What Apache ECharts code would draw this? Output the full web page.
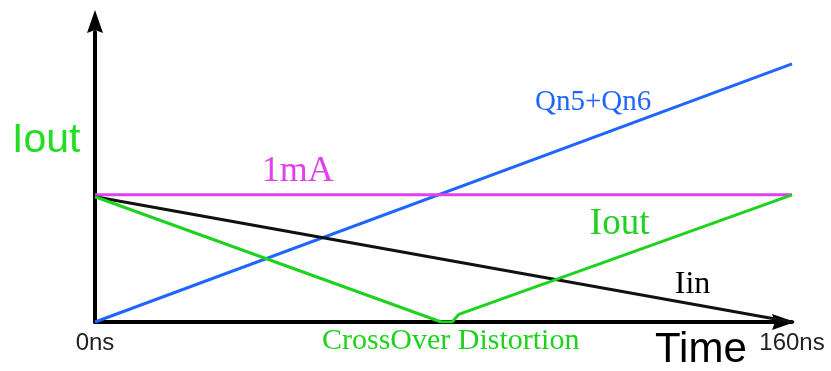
<!DOCTYPE html>
<html>
<head>
<meta charset="utf-8">
<style>
  html, body { margin: 0; padding: 0; background: #fff; }
  #chart { width: 831px; height: 371px; }
</style>
<script src="https://cdn.jsdelivr.net/npm/echarts@6/dist/echarts.min.js"></script>
</head>
<body>
<div id="chart"></div>
<script>
// time in ns, current in mA (sketch units)
const timeTicks = [0, 160];
const qn56Time = [0, 160];
const qn56Current = [0, 2.03];
const refTime = [0, 160];
const refCurrent = [1.0, 1.0];
const iinTime = [0, 160];
const iinCurrent = [0.985, 0];
const ioutTime = [0, 79.5, 82, 83.5, 160];
const ioutCurrent = [0.985, 0, 0, 0.06, 1.0];

// annotations: text, time, current (left edge / vertical centre)
const labelTexts = ["Qn5+Qn6", "1mA", "Iout", "Iin", "CrossOver Distortion"];
const labelTime = [101.0, 38.3, 113.6, 133.1, 52.1];
const labelCurrent = [1.724, 1.181, 0.768, 0.291, -0.15];
const labelColors = ["#1f66ff", "#e040ee", "#1ed21e", "#000", "#1ed21e"];
const labelSizes = [29, 36, 37, 32, 30];

function zip(xs, ys) {
  return xs.map((x, i) => [x, ys[i]]);
}

function lineSeries(name, xs, ys, color) {
  return {
    name: name,
    type: "line",
    data: zip(xs, ys),
    showSymbol: false,
    lineStyle: {color: color, width: 3},
    z: 3,
  };
}

const chart = echarts.init(document.getElementById("chart"), null, {renderer: "canvas"});

// solid arrow head with a shallow notch, centred on axis end + offset
const arrowHead = "path://M8,0 L16,23 L8,20 L0,23 Z";
const axisLine = (offset) => ({
  show: true,
  symbol: ["none", arrowHead],
  symbolSize: [16, 23],
  symbolOffset: [0, offset],
  lineStyle: {color: "#000", width: 4},
});

chart.setOption({
  animation: false,
  grid: {left: 95, right: 39, top: 32, bottom: 49},
  xAxis: {
    type: "value",
    min: timeTicks[0],
    max: timeTicks[1],
    interval: timeTicks[1] - timeTicks[0],
    axisLine: axisLine(-8.5),
    axisTick: {show: false},
    splitLine: {show: false},
    axisLabel: {
      fontFamily: "Liberation Sans",
      fontSize: 24,
      color: "#222",
      margin: 9,
      showMinLabel: true,
      showMaxLabel: true,
      formatter: (v) => v + "ns",
    },
  },
  yAxis: {
    type: "value",
    min: 0,
    max: 2.28,
    axisLine: axisLine(10.5),
    axisTick: {show: false},
    splitLine: {show: false},
    axisLabel: {show: false},
  },
  series: [
    lineSeries("Qn5+Qn6", qn56Time, qn56Current, "#1f66ff"),
    lineSeries("1mA", refTime, refCurrent, "#e040ee"),
    lineSeries("Iin", iinTime, iinCurrent, "#111"),
    lineSeries("Iout", ioutTime, ioutCurrent, "#1ed21e"),
  ],
});

// place the line labels through the chart's own scales
const graphics = labelTexts.map((t, i) => {
  const p = chart.convertToPixel({gridIndex: 0}, [labelTime[i], labelCurrent[i]]);
  return {
    type: "text",
    left: p[0],
    top: p[1] - labelSizes[i] / 2,
    style: {
      text: t,
      fill: labelColors[i],
      font: labelSizes[i] + "px 'Liberation Serif'",
    },
  };
});

// axis titles
graphics.push({
  type: "text",
  left: 12,
  top: 120,
  style: {text: "Iout", fill: "#22dd22", font: "41px 'Liberation Sans'"},
});
graphics.push({
  type: "text",
  left: 655,
  top: 329,
  style: {text: "Time", fill: "#000", font: "42px 'Liberation Sans'"},
});

chart.setOption({graphic: graphics});
</script>
</body>
</html>
